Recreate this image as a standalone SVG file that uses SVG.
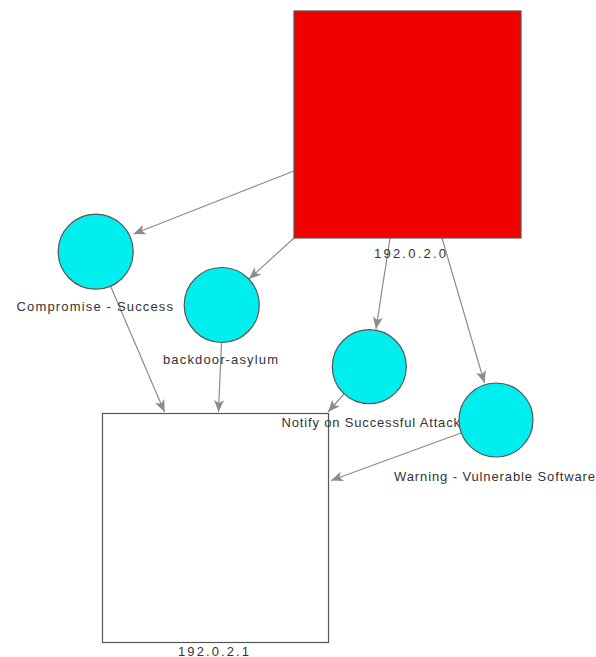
<svg xmlns="http://www.w3.org/2000/svg" width="596" height="657" viewBox="0 0 596 657">
<style>
.lbl{font-family:"Liberation Sans",Arial,sans-serif;font-size:13px;fill:#333}
.host{stroke:#555;stroke-width:1.2}
.ev{fill:#00eeee;stroke:#555;stroke-width:1.2}
.edge{stroke:#8c8c8c;stroke-width:1.2;fill:none;marker-end:url(#arr)}
</style>
<defs>
<marker id="arr" markerUnits="userSpaceOnUse" markerWidth="14" markerHeight="10" refX="12" refY="5" orient="auto">
<path d="M0,0 L12,5 L0,10 L3,5 z" fill="#8c8c8c"/>
</marker>
</defs>
<rect width="596" height="657" fill="#fff"/>
<g id="connectors">
<line class="edge" x1="294" y1="171" x2="133.5" y2="234"/>
<line class="edge" x1="294" y1="238" x2="249" y2="279"/>
<line class="edge" x1="390" y1="238" x2="376" y2="329"/>
<line class="edge" x1="442" y1="238" x2="484.5" y2="383"/>
<line class="edge" x1="110.5" y1="286" x2="164.5" y2="412"/>
<line class="edge" x1="221.5" y1="342.5" x2="218.5" y2="412"/>
<line class="edge" x1="344" y1="394" x2="328" y2="412"/>
<line class="edge" x1="461" y1="433" x2="331" y2="480.5"/>
</g>
<g id="host-192.0.2.0">
<rect class="host" x="294" y="11" width="227" height="227" fill="#f20000"/>
<text class="lbl" x="374" y="258" textLength="72" lengthAdjust="spacing">192.0.2.0</text>
</g>
<g id="host-192.0.2.1">
<rect class="host" x="102.5" y="413.5" width="226" height="229" fill="#fff"/>
<text class="lbl" x="178" y="655.5" textLength="71" lengthAdjust="spacing">192.0.2.1</text>
</g>
<g id="ev-compromise">
<circle class="ev" cx="95.7" cy="251.7" r="37.5"/>
<text class="lbl" x="16.5" y="311" textLength="156.5" lengthAdjust="spacing">Compromise - Success</text>
</g>
<g id="ev-backdoor">
<circle class="ev" cx="221.7" cy="305" r="37.5"/>
<text class="lbl" x="163" y="363.5" textLength="115" lengthAdjust="spacing">backdoor-asylum</text>
</g>
<g id="ev-notify">
<circle class="ev" cx="369.3" cy="366.7" r="37"/>
<text class="lbl" x="281.5" y="426.5" textLength="178.5" lengthAdjust="spacing">Notify on Successful Attack</text>
</g>
<g id="ev-warning">
<circle class="ev" cx="496" cy="420" r="37"/>
<text class="lbl" x="394" y="481" textLength="201" lengthAdjust="spacing">Warning - Vulnerable Software</text>
</g>
</svg>
